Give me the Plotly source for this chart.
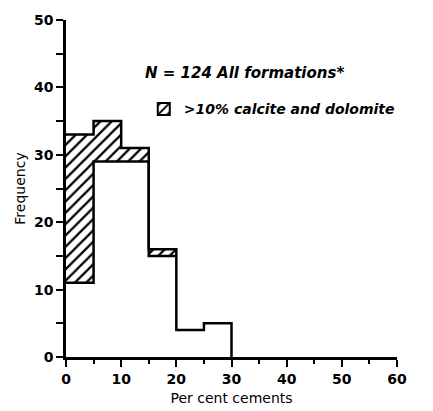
import plotly.graph_objects as go

bin_left = [0, 5, 10, 15, 20, 25]
bin_width = 5
total_freq = [33, 35, 31, 16, 4, 5]
other_freq = [11, 29, 29, 15, 4, 5]          # unhatched part
carb_freq = [t - o for t, o in zip(total_freq, other_freq)]  # hatched part (>10% calcite and dolomite)

x_ticks = [0, 10, 20, 30, 40, 50, 60]
y_ticks = [0, 10, 20, 30, 40, 50]

centers = [b + bin_width / 2 for b in bin_left]
edges = bin_left + [bin_left[-1] + bin_width]

hatch = dict(shape="/", fgcolor="black", bgcolor="white", size=8, solidity=0.28, fgopacity=1)

fig = go.Figure()

fig.add_trace(go.Bar(
    x=centers, y=other_freq, width=bin_width,
    marker=dict(color="white", line=dict(width=0)),
    showlegend=False, hoverinfo="skip",
))
fig.add_trace(go.Bar(
    x=centers, y=carb_freq, base=other_freq, width=bin_width,
    marker=dict(color="white", line=dict(width=0), pattern=hatch),
    showlegend=False, hoverinfo="skip",
))
# legend entry (no data drawn)
fig.add_trace(go.Bar(
    x=[None], y=[None],
    marker=dict(color="white", line=dict(width=2, color="black"), pattern=hatch),
    name=">10% calcite and dolomite", showlegend=True,
))

# outline of the whole histogram
fig.add_trace(go.Scatter(
    x=edges + [edges[-1]], y=total_freq + [total_freq[-1], 0],
    mode="lines", line=dict(color="black", width=2.5, shape="hv"),
    showlegend=False, hoverinfo="skip",
))
# inner boundary between hatched and unhatched parts
inner_n = 4
fig.add_trace(go.Scatter(
    x=edges[:inner_n + 1], y=other_freq[:inner_n] + [other_freq[inner_n - 1]],
    mode="lines", line=dict(color="black", width=2.5, shape="hv"),
    showlegend=False, hoverinfo="skip",
))

tickfont = dict(family="DejaVu Sans", size=14, color="black", weight="bold")

fig.update_layout(
    width=433, height=411,
    margin=dict(l=66, r=36, t=20, b=54),
    plot_bgcolor="white", paper_bgcolor="white",
    barmode="overlay", bargap=0,
    showlegend=True,
    legend=dict(x=0.235, y=0.735, xanchor="left", yanchor="middle",
                bgcolor="rgba(0,0,0,0)",
                font=dict(family="DejaVu Sans", size=14, color="black", style="italic", weight="bold")),
    annotations=[dict(
        x=0.233, y=0.843, xref="paper", yref="paper", xanchor="left", yanchor="middle",
        text="N = 124 All formations*", showarrow=False,
        font=dict(family="DejaVu Sans", size=15, color="black", style="italic", weight="bold"),
    )],
)

fig.update_xaxes(
    range=[0, 60], tickvals=x_ticks, showgrid=False, zeroline=False, automargin=False,
    showline=True, linecolor="black", linewidth=2.5,
    ticks="outside", ticklen=7, tickwidth=2, tickcolor="black",
    minor=dict(tickvals=[5, 15, 25, 35, 45, 55], ticks="outside", ticklen=4, tickwidth=1.5, tickcolor="black"),
    tickfont=tickfont,
    title=dict(text="Per cent cements", font=dict(family="DejaVu Sans", size=14, color="black"), standoff=8),
)
fig.update_yaxes(
    range=[0, 50], tickvals=y_ticks, showgrid=False, zeroline=False, automargin=False,
    showline=True, linecolor="black", linewidth=2.5,
    ticks="outside", ticklen=7, tickwidth=2, tickcolor="black",
    minor=dict(tickvals=[5, 15, 25, 35, 45], ticks="outside", ticklen=7, tickwidth=2, tickcolor="black"),
    tickfont=tickfont,
    title=dict(text="Frequency", font=dict(family="DejaVu Sans", size=14, color="black"), standoff=6),
)

fig.write_html("out.html")
